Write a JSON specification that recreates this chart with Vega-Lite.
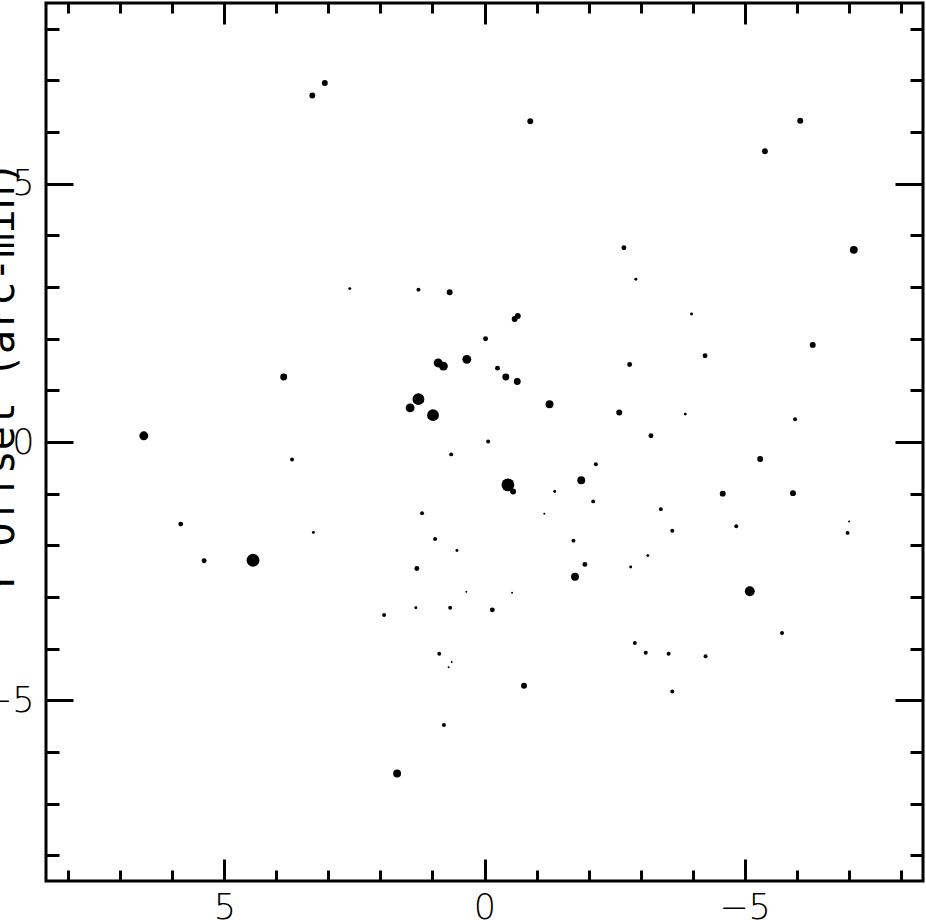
{
  "$schema": "https://vega.github.io/schema/vega-lite/v6.json",
  "width": 877,
  "height": 878,
  "autosize": {"type": "none"},
  "padding": {"left": 46, "top": 3, "right": 3, "bottom": 39},
  "background": "white",
  "config": {
    "view": {"stroke": "black", "strokeWidth": 3},
    "axis": {"grid": false, "domain": false, "tickColor": "black", "tickWidth": 3, "labelColor": "black", "titleColor": "black", "labelFlush": false, "labelOverlap": false}
  },
  "data": {
    "values": [
      {"xoff": 3.31, "yoff": 6.71, "flux": 6},
      {"xoff": 3.07, "yoff": 6.95, "flux": 6},
      {"xoff": 2.59, "yoff": 2.97, "flux": 3},
      {"xoff": 1.27, "yoff": 2.95, "flux": 4},
      {"xoff": 0.67, "yoff": 2.90, "flux": 6},
      {"xoff": -0.88, "yoff": 6.21, "flux": 6},
      {"xoff": -6.07, "yoff": 6.22, "flux": 6},
      {"xoff": -5.39, "yoff": 5.63, "flux": 6},
      {"xoff": -2.68, "yoff": 3.76, "flux": 5},
      {"xoff": -2.91, "yoff": 3.15, "flux": 3},
      {"xoff": -7.10, "yoff": 3.72, "flux": 8},
      {"xoff": 3.86, "yoff": 1.26, "flux": 7},
      {"xoff": 0.89, "yoff": 1.53, "flux": 9},
      {"xoff": 0.79, "yoff": 1.47, "flux": 9},
      {"xoff": 0.34, "yoff": 1.60, "flux": 9},
      {"xoff": 1.27, "yoff": 0.83, "flux": 12},
      {"xoff": 1.43, "yoff": 0.66, "flux": 9},
      {"xoff": 0.99, "yoff": 0.52, "flux": 12},
      {"xoff": 6.55, "yoff": 0.12, "flux": 9},
      {"xoff": 3.70, "yoff": -0.34, "flux": 4},
      {"xoff": 0.64, "yoff": -0.24, "flux": 4},
      {"xoff": 5.84, "yoff": -1.59, "flux": 5},
      {"xoff": 3.29, "yoff": -1.75, "flux": 3},
      {"xoff": 1.20, "yoff": -1.38, "flux": 4},
      {"xoff": 0.95, "yoff": -1.88, "flux": 4},
      {"xoff": 0.53, "yoff": -2.10, "flux": 3},
      {"xoff": 5.39, "yoff": -2.30, "flux": 5},
      {"xoff": 4.45, "yoff": -2.29, "flux": 13},
      {"xoff": 1.30, "yoff": -2.45, "flux": 5},
      {"xoff": 0.35, "yoff": -2.90, "flux": 2},
      {"xoff": -0.58, "yoff": 2.38, "flux": 6},
      {"xoff": -0.64, "yoff": 2.44, "flux": 6},
      {"xoff": -0.02, "yoff": 2.00, "flux": 5},
      {"xoff": -0.25, "yoff": 1.43, "flux": 5},
      {"xoff": -0.41, "yoff": 1.26, "flux": 7},
      {"xoff": -0.63, "yoff": 1.17, "flux": 7},
      {"xoff": -1.25, "yoff": 0.73, "flux": 8},
      {"xoff": -2.59, "yoff": 0.57, "flux": 6},
      {"xoff": -3.86, "yoff": 0.54, "flux": 3},
      {"xoff": -3.98, "yoff": 2.48, "flux": 3},
      {"xoff": -4.24, "yoff": 1.67, "flux": 5},
      {"xoff": -6.31, "yoff": 1.88, "flux": 6},
      {"xoff": -2.79, "yoff": 1.50, "flux": 5},
      {"xoff": -5.97, "yoff": 0.44, "flux": 4},
      {"xoff": -3.20, "yoff": 0.12, "flux": 5},
      {"xoff": -0.07, "yoff": 0.01, "flux": 4},
      {"xoff": -5.30, "yoff": -0.33, "flux": 6},
      {"xoff": -2.14, "yoff": -0.43, "flux": 4},
      {"xoff": -0.45, "yoff": -0.83, "flux": 13},
      {"xoff": -0.55, "yoff": -0.96, "flux": 6},
      {"xoff": -1.86, "yoff": -0.74, "flux": 8},
      {"xoff": -1.35, "yoff": -0.96, "flux": 3},
      {"xoff": -2.09, "yoff": -1.15, "flux": 4},
      {"xoff": -4.58, "yoff": -1.00, "flux": 6},
      {"xoff": -5.93, "yoff": -0.99, "flux": 6},
      {"xoff": -1.15, "yoff": -1.39, "flux": 2},
      {"xoff": -3.39, "yoff": -1.30, "flux": 4},
      {"xoff": -3.61, "yoff": -1.72, "flux": 4},
      {"xoff": -4.84, "yoff": -1.63, "flux": 4},
      {"xoff": -7.01, "yoff": -1.54, "flux": 2},
      {"xoff": -6.98, "yoff": -1.76, "flux": 4},
      {"xoff": -1.71, "yoff": -1.91, "flux": 4},
      {"xoff": -1.93, "yoff": -2.37, "flux": 5},
      {"xoff": -1.74, "yoff": -2.61, "flux": 8},
      {"xoff": -3.14, "yoff": -2.20, "flux": 3},
      {"xoff": -2.81, "yoff": -2.42, "flux": 3},
      {"xoff": -0.53, "yoff": -2.92, "flux": 2},
      {"xoff": -5.10, "yoff": -2.89, "flux": 10},
      {"xoff": 1.93, "yoff": -3.35, "flux": 4},
      {"xoff": 1.32, "yoff": -3.21, "flux": 3},
      {"xoff": 0.66, "yoff": -3.21, "flux": 4},
      {"xoff": 0.87, "yoff": -4.10, "flux": 4},
      {"xoff": 0.63, "yoff": -4.26, "flux": 2},
      {"xoff": 0.69, "yoff": -4.36, "flux": 2},
      {"xoff": 0.78, "yoff": -5.48, "flux": 4},
      {"xoff": 1.68, "yoff": -6.42, "flux": 8},
      {"xoff": -0.15, "yoff": -3.25, "flux": 5},
      {"xoff": -0.76, "yoff": -4.72, "flux": 6},
      {"xoff": -2.89, "yoff": -3.89, "flux": 4},
      {"xoff": -3.10, "yoff": -4.08, "flux": 4},
      {"xoff": -3.54, "yoff": -4.10, "flux": 4},
      {"xoff": -4.25, "yoff": -4.15, "flux": 4},
      {"xoff": -3.61, "yoff": -4.83, "flux": 4},
      {"xoff": -5.72, "yoff": -3.70, "flux": 4}
    ]
  },
  "layer": [
    {
      "mark": {"type": "point", "filled": true, "shape": "circle", "color": "black", "opacity": 1},
      "encoding": {
        "x": {"field": "xoff", "type": "quantitative", "scale": {"domain": [-8.43, 8.43], "reverse": true, "nice": false, "zero": false},
              "axis": {"orient": "bottom", "values": [-5, 0, 5], "ticks": false, "labelFontSize": 35, "labelFont": "DejaVu Sans", "labelFontWeight": 200, "labelPadding": 9, "title": null}},
        "y": {"field": "yoff", "type": "quantitative", "scale": {"domain": [-8.5, 8.5], "nice": false, "zero": false},
              "axis": {"orient": "left", "values": [-5, 0, 5], "ticks": false, "labelFontSize": 35, "labelFont": "DejaVu Sans", "labelFontWeight": 200, "labelPadding": 12,
                       "title": "Y Offset (arc-min)", "titleFont": "DejaVu Sans Mono", "titleFontSize": 40, "titleFontWeight": "normal", "titleAngle": 270, "titleX": -33, "titleY": 374.5, "titleAlign": "center", "titleBaseline": "alphabetic"}},
        "size": {"field": "flux", "type": "quantitative", "scale": {"type": "pow", "exponent": 2, "domain": [0, 13], "range": [0, 165]}, "legend": null}
      }
    },
    {
      "mark": {"type": "point", "opacity": 0},
      "encoding": {
        "x": {"field": "xoff", "type": "quantitative", "scale": {"domain": [-8.43, 8.43], "reverse": true, "nice": false, "zero": false},
              "axis": {"orient": "bottom", "values": [-5, 0, 5], "labels": false, "tickSize": -22, "title": null}},
        "y": {"field": "yoff", "type": "quantitative", "scale": {"domain": [-8.5, 8.5], "nice": false, "zero": false},
              "axis": {"orient": "left", "values": [-5, 0, 5], "labels": false, "tickSize": -27, "title": null}}
      }
    },
    {
      "mark": {"type": "point", "opacity": 0},
      "encoding": {
        "x": {"field": "xoff", "type": "quantitative", "scale": {"domain": [-8.43, 8.43], "reverse": true, "nice": false, "zero": false},
              "axis": {"orient": "bottom", "values": [-8, -7, -6, -5, -4, -3, -2, -1, 0, 1, 2, 3, 4, 5, 6, 7, 8], "labels": false, "tickSize": -11, "title": null}},
        "y": {"field": "yoff", "type": "quantitative", "scale": {"domain": [-8.5, 8.5], "nice": false, "zero": false},
              "axis": {"orient": "left", "values": [-8, -7, -6, -5, -4, -3, -2, -1, 0, 1, 2, 3, 4, 5, 6, 7, 8], "labels": false, "tickSize": -13, "title": null}}
      }
    },
    {
      "mark": {"type": "point", "opacity": 0},
      "encoding": {
        "x": {"field": "xoff", "type": "quantitative", "scale": {"domain": [-8.43, 8.43], "reverse": true, "nice": false, "zero": false},
              "axis": {"orient": "top", "values": [-5, 0, 5], "labels": false, "tickSize": -21, "title": null}},
        "y": {"field": "yoff", "type": "quantitative", "scale": {"domain": [-8.5, 8.5], "nice": false, "zero": false},
              "axis": {"orient": "right", "values": [-5, 0, 5], "labels": false, "tickSize": -28, "title": null}}
      }
    },
    {
      "mark": {"type": "point", "opacity": 0},
      "encoding": {
        "x": {"field": "xoff", "type": "quantitative", "scale": {"domain": [-8.43, 8.43], "reverse": true, "nice": false, "zero": false},
              "axis": {"orient": "top", "values": [-8, -7, -6, -5, -4, -3, -2, -1, 0, 1, 2, 3, 4, 5, 6, 7, 8], "labels": false, "tickSize": -10, "title": null}},
        "y": {"field": "yoff", "type": "quantitative", "scale": {"domain": [-8.5, 8.5], "nice": false, "zero": false},
              "axis": {"orient": "right", "values": [-8, -7, -6, -5, -4, -3, -2, -1, 0, 1, 2, 3, 4, 5, 6, 7, 8], "labels": false, "tickSize": -13, "title": null}}
      }
    }
  ],
  "resolve": {"axis": {"x": "independent", "y": "independent"}}
}
